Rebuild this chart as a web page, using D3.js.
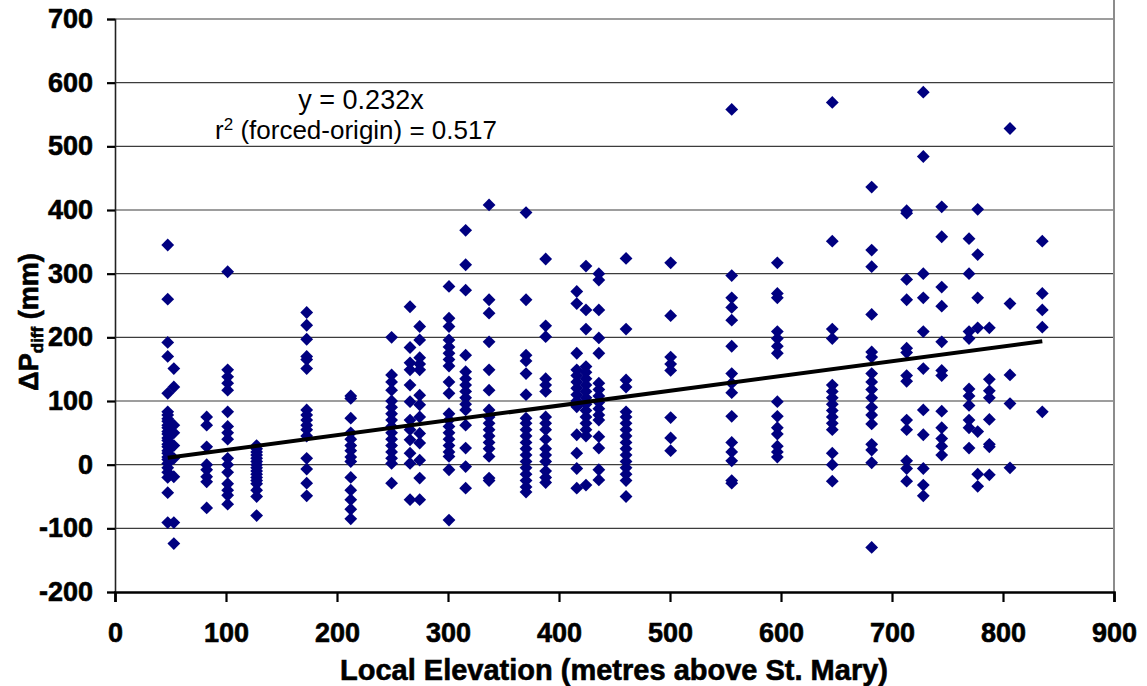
<!DOCTYPE html>
<html>
<head>
<meta charset="utf-8">
<script src="https://cdn.jsdelivr.net/npm/d3@7"></script>
<style>
  html, body { margin: 0; padding: 0; background: #fff; }
  svg { display: block; }
  text { font-family: Arial, "Liberation Sans", sans-serif; }
</style>
</head>
<body>
<svg id="chart" width="1147" height="686"></svg>
<script>
// Station elevations (m above St. Mary) and the ΔP_diff values (mm) observed at each
const elevation = [47.5, 53, 82.6, 101.5, 127.6, 172.7, 212.4, 249.2, 265.8, 274.5,
  300.9, 315.9, 337, 370.3, 388, 416, 424.3, 435.9, 460.4, 500.6,
  555.6, 596.7, 646.2, 681.7, 713.2, 728.2, 744.8, 769.4, 777.2, 787.7,
  806.3, 835.4];

const deltaP = [
  [345, 260, 192, 170, 112, 83, 78, 72, 68, 62, 58, 52, 48, 42, 38, 32, 28, 22, 18, 12, 8, 2, -5, -12, -20, -44, -91],
  [151, 122, 62, 50, 30, 10, -19, -91, -124],
  [75, 62, 28, 0, -8, -19, -27, -68],
  [303, 149, 138, 128, 117, 83, 60, 50, 40, 10, 0, -12, -30, -40, -48, -62],
  [30, 25, 20, 15, 10, 5, 0, -5, -10, -15, -20, -25, -30, -40, -50, -80],
  [239, 219, 197, 170, 165, 151, 86, 78, 70, 62, 55, 45, 10, -7, -29, -49],
  [108, 104, 73, 50, 40, 30, 22, 12, 5, -20, -40, -55, -70, -85],
  [200, 141, 130, 117, 100, 90, 80, 70, 60, 50, 40, 30, 20, 10, 2, -29],
  [248, 184, 160, 149, 125, 99, 70, 55, 39, 18, 2, -55],
  [217, 196, 168, 158, 149, 109, 94, 75, 49, 34, 7, -21, -55],
  [280, 230, 217, 196, 185, 175, 165, 155, 130, 112, 80, 70, 60, 50, 40, 30, 20, 13, -8, -87],
  [368, 314, 274, 172, 146, 135, 125, 115, 105, 95, 86, 62, 26, -3, -37],
  [408, 259, 238, 193, 149, 117, 86, 75, 65, 55, 45, 35, 25, 13, -21, -25],
  [396, 259, 172, 163, 143, 110, 73, 65, 55, 45, 35, 25, 15, 5, -5, -15, -25, -35, -43],
  [323, 218, 201, 135, 125, 115, 75, 65, 55, 40, 25, 15, 5, -10, -20, -28],
  [272, 253, 175, 149, 140, 130, 120, 110, 100, 91, 47, 18, -6, -37],
  [312, 243, 213, 154, 145, 135, 125, 115, 105, 95, 85, 75, 65, 55, 45, -32],
  [300, 290, 243, 199, 175, 128, 118, 108, 98, 88, 78, 70, 44, 26, -8, -24],
  [324, 213, 133, 122, 83, 75, 65, 55, 45, 35, 25, 15, 5, -5, -15, -25, -50],
  [317, 234, 169, 158, 148, 74, 42, 22],
  [558, 297, 262, 247, 227, 186, 143, 128, 113, 76, 35, 20, 6, -25, -29],
  [317, 269, 262, 209, 198, 186, 175, 99, 76, 58, 48, 29, 20, 12],
  [569, 351, 213, 198, 125, 115, 105, 95, 85, 75, 65, 55, 18, 0, -26],
  [436, 337, 311, 236, 177, 169, 143, 130, 118, 105, 90, 78, 64, 32, 23, 3, -130],
  [399, 395, 291, 259, 183, 176, 140, 131, 70, 55, 6, -6, -26],
  [585, 484, 300, 262, 209, 151, 86, 47, -6, -32, -49],
  [405, 358, 279, 249, 193, 148, 140, 84, 58, 41, 29, 15],
  [355, 300, 209, 198, 119, 108, 93, 70, 58, 26],
  [401, 330, 262, 215, 52, -15, -34],
  [215, 134, 116, 105, 71, 32, 28, -16],
  [528, 253, 141, 96, -5],
  [351, 269, 243, 216, 83]
];

// Forced-origin regression: ΔP = slope * elevation
const slope = 0.232;
const rSquared = 0.517;
const xTicks = [0, 100, 200, 300, 400, 500, 600, 700, 800, 900];
const yTicks = [-200, -100, 0, 100, 200, 300, 400, 500, 600, 700];

const points = [];
elevation.forEach((e, i) => deltaP[i].forEach(v => points.push({ x: e, y: v })));

const svg = d3.select("#chart");
const plot = { left: 115, right: 1114, top: 19, bottom: 592 };

const x = d3.scaleLinear().domain([0, 900]).range([plot.left, plot.right]);
const y = d3.scaleLinear().domain([-200, 700]).range([plot.bottom, plot.top]);

svg.append("rect").attr("width", 1147).attr("height", 686).attr("fill", "#fff");

// horizontal gridlines
svg.append("g")
  .selectAll("line")
  .data(yTicks.filter(t => t > -200))
  .join("line")
  .attr("x1", plot.left).attr("x2", plot.right)
  .attr("y1", d => y(d)).attr("y2", d => y(d))
  .attr("stroke", "#3c3c3c").attr("stroke-width", 1.2);

// plot-area right border
svg.append("line")
  .attr("x1", plot.right).attr("x2", plot.right)
  .attr("y1", 0).attr("y2", plot.bottom)
  .attr("stroke", "#8c8c8c").attr("stroke-width", 2);

const boldText = sel => sel
  .attr("font-weight", "bold").attr("fill", "#000")
  .attr("stroke", "#000").attr("stroke-width", 0.6)
  .attr("font-family", "Arial, 'Liberation Sans', sans-serif");

// y axis
const yAxis = svg.append("g")
  .attr("transform", `translate(${plot.left},0)`)
  .call(d3.axisLeft(y).tickValues(yTicks).tickFormat(d => String(d)).tickSize(8).tickPadding(14));
yAxis.select(".domain").attr("stroke", "#222").attr("stroke-width", 1.6);
yAxis.selectAll(".tick line").attr("stroke", "#000").attr("stroke-width", 2.2);
yAxis.selectAll(".tick text").attr("font-size", 27).call(boldText);

// x axis
const xAxis = svg.append("g")
  .attr("transform", `translate(0,${plot.bottom})`)
  .call(d3.axisBottom(x).tickValues(xTicks).tickFormat(d => String(d)).tickSize(10).tickPadding(21));
xAxis.select(".domain").attr("stroke", "#000").attr("stroke-width", 2.6);
xAxis.selectAll(".tick line").attr("stroke", "#000").attr("stroke-width", 2.2);
xAxis.selectAll(".tick text").attr("font-size", 27).call(boldText);

// data markers
const diamond = "M0,-6.4L6.4,0L0,6.4L-6.4,0Z";
svg.append("g")
  .selectAll("path")
  .data(points)
  .join("path")
  .attr("d", diamond)
  .attr("transform", d => `translate(${x(d.x)},${y(d.y)})`)
  .attr("fill", "#000080");

// regression line across the sampled elevation range
const xExtent = d3.extent(elevation);
svg.append("line")
  .attr("x1", x(xExtent[0])).attr("y1", y(slope * xExtent[0]))
  .attr("x2", x(xExtent[1])).attr("y2", y(slope * xExtent[1]))
  .attr("stroke", "#000").attr("stroke-width", 4);

// regression annotation
svg.append("text")
  .attr("x", 361).attr("y", 109)
  .attr("text-anchor", "middle").attr("font-size", 27)
  .text(`y = ${slope}x`);
const eq2 = svg.append("text")
  .attr("x", 356).attr("y", 139)
  .attr("text-anchor", "middle").attr("font-size", 26);
eq2.append("tspan").text("r");
eq2.append("tspan").attr("font-size", 17).attr("dy", -9).text("2");
eq2.append("tspan").attr("dy", 9).text(` (forced-origin) = ${rSquared}`);

// axis titles
svg.append("text")
  .attr("x", 614).attr("y", 680)
  .attr("text-anchor", "middle").attr("font-size", 29)
  .call(boldText)
  .text("Local Elevation (metres above St. Mary)");

const yt = svg.append("text")
  .attr("transform", "translate(38,322) rotate(-90)")
  .attr("text-anchor", "middle").attr("font-size", 27)
  .call(boldText);
yt.append("tspan").text("ΔP");
yt.append("tspan").attr("font-size", 17).attr("dy", 5).text("diff");
yt.append("tspan").attr("dy", -5).text(" (mm)");
</script>
</body>
</html>
